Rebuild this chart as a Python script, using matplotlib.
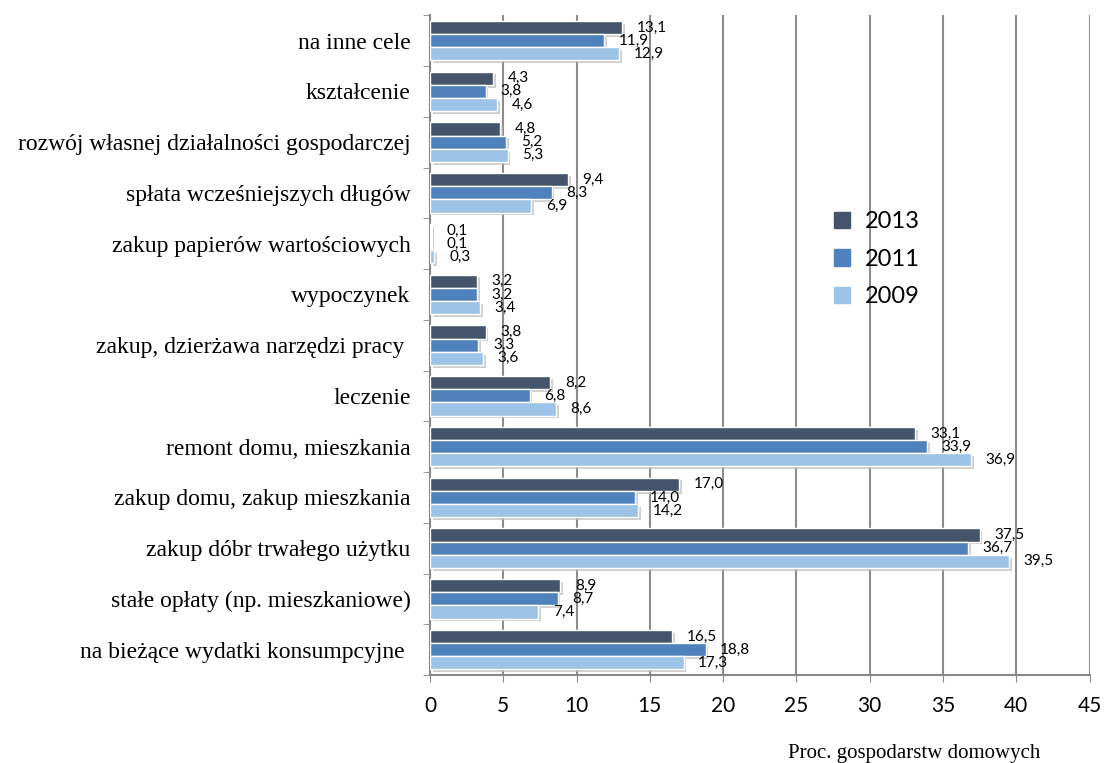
import numpy as np
import matplotlib
matplotlib.use("Agg")
import matplotlib.pyplot as plt
import matplotlib.patheffects as pe
from matplotlib.patches import Patch

categories = ["na inne cele", "kształcenie", "rozwój własnej działalności gospodarczej",
              "spłata wcześniejszych długów", "zakup papierów wartościowych", "wypoczynek",
              "zakup, dzierżawa narzędzi pracy ", "leczenie", "remont domu, mieszkania",
              "zakup domu, zakup mieszkania", "zakup dóbr trwałego użytku",
              "stałe opłaty (np. mieszkaniowe)", "na bieżące wydatki konsumpcyjne "]
years = ["2013", "2011", "2009"]
v2013 = [13.1, 4.3, 4.8, 9.4, 0.1, 3.2, 3.8, 8.2, 33.1, 17.0, 37.5, 8.9, 16.5]
v2011 = [11.9, 3.8, 5.2, 8.3, 0.1, 3.2, 3.3, 6.8, 33.9, 14.0, 36.7, 8.7, 18.8]
v2009 = [12.9, 4.6, 5.3, 6.9, 0.3, 3.4, 3.6, 8.6, 36.9, 14.2, 39.5, 7.4, 17.3]
colors = ["#44546A", "#4F81BD", "#9DC3E6"]

fig = plt.figure(figsize=(11.04, 7.63), dpi=100)
ax = fig.add_axes([0.3895, 0.1153, 0.5975, 0.8647])

n = len(categories)
y = np.arange(n)
h = 0.26
shadow = [pe.SimplePatchShadow(offset=(2, -2), shadow_rgbFace="#bbbbbb", alpha=0.7), pe.Normal()]

for k, (vals, col) in enumerate(zip([v2013, v2011, v2009], colors)):
    pos = y - h + k * h
    bars = ax.barh(pos, vals, height=h, color=col, edgecolor="white", linewidth=1, zorder=3)
    for b in bars:
        b.set_path_effects(shadow)
    for p, v in zip(pos, vals):
        ax.text(v + 1.0, p, f"{v:.1f}".replace(".", ","), va="center", ha="left",
                fontsize=11, family="Lato", zorder=4)

ax.set_xlim(0, 45)
ax.set_ylim(n - 0.5, -0.5)
ax.set_xticks(np.arange(0, 46, 5))
ax.tick_params(axis="x", labelsize=15, length=5, color="#888888", pad=10)
for t in ax.get_xticklabels():
    t.set_family("Lato")
ax.set_yticks(y)
ax.set_yticklabels(categories, family="Liberation Serif", fontsize=17)
ax.tick_params(axis="y", length=0, pad=14)
ax.set_yticks(np.arange(-0.5, n, 1), minor=True)
ax.tick_params(axis="y", which="minor", length=5, color="#888888")

ax.grid(axis="x", color="#8C8C8C", linewidth=1.5, zorder=0)
for s in ["top", "right"]:
    ax.spines[s].set_visible(False)
ax.spines["left"].set_color("#888888")
ax.spines["bottom"].set_color("#888888")
ax.spines["left"].set_linewidth(1.5)
ax.spines["bottom"].set_linewidth(1.5)

handles = [Patch(color=c, label=yr) for c, yr in zip(colors, years)]
ax.legend(handles=handles, loc="upper left", bbox_to_anchor=(0.58, 0.735), frameon=False,
          prop={"family": "Lato", "size": 17}, handlelength=0.7, handleheight=0.7,
          labelspacing=0.7, handletextpad=0.6)

fig.text(0.714, 0.006, "Proc. gospodarstw domowych", family="Liberation Serif", fontsize=15)

fig.savefig("out.png", dpi=100)
